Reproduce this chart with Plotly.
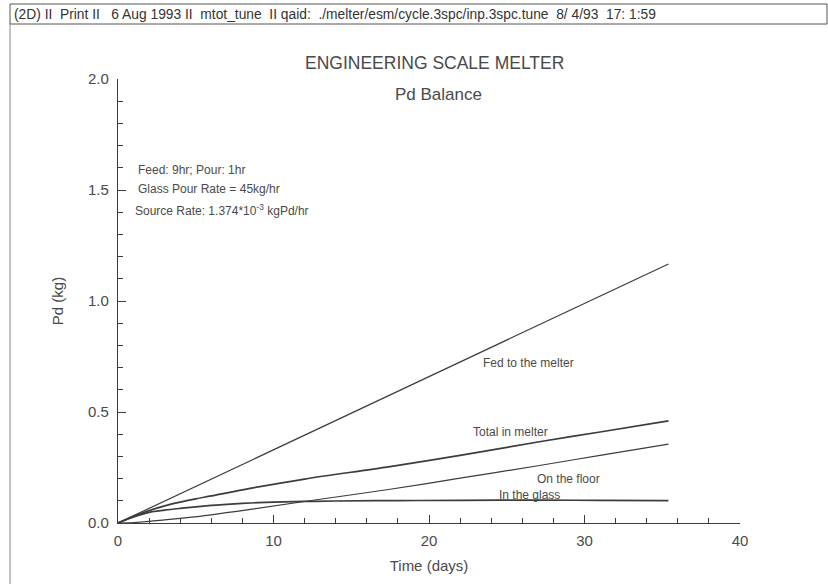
import plotly.graph_objects as go

# Pd inventory in the engineering scale melter (kg) versus time (days)
fed_days = [0.0, 35.4]
fed_pd = [0.0, 1.167]

total_days = [0, 1, 2, 3, 4, 5, 6, 8.5, 12, 17.5, 22, 27.1, 31, 35.4]
total_pd = [0.0, 0.030, 0.056, 0.077, 0.094, 0.109, 0.122, 0.156, 0.198, 0.254, 0.305, 0.366, 0.410, 0.460]

floor_days = [0, 1, 2, 3, 4, 6, 8.5, 12.2, 17.5, 22, 27.1, 31, 35.4]
floor_pd = [0.0, 0.002, 0.007, 0.014, 0.021, 0.037, 0.061, 0.099, 0.152, 0.202, 0.259, 0.305, 0.355]

glass_days = [0, 1, 2, 3, 4, 5, 6, 7, 8.5, 10, 12, 14, 18, 22, 27.1, 31, 35.4]
glass_pd = [0.0, 0.027, 0.048, 0.058, 0.066, 0.073, 0.079, 0.084, 0.090, 0.094, 0.097, 0.099, 0.101, 0.102, 0.103, 0.102, 0.101]

x_ticks = [0, 10, 20, 30, 40]
y_ticks = [0.0, 0.5, 1.0, 1.5, 2.0]
y_tick_text = ["0.0", "0.5", "1.0", "1.5", "2.0"]

W, H = 828, 584
L, R, T, B = 118, 88, 79, 61
PW, PH = W - L - R, H - T - B

INK = "#3c3c3c"
TXT = "#4a4a4a"
FONT = "Liberation Sans, Arial, Helvetica, sans-serif"


def px(x):
    return (x - L) / PW


def py(y):
    return (H - B - y) / PH


fig = go.Figure()
fig.add_trace(go.Scatter(x=fed_days, y=fed_pd, mode="lines",
                         line=dict(color=INK, width=1.2), name="Fed to the melter"))
fig.add_trace(go.Scatter(x=total_days, y=total_pd, mode="lines", line_shape="spline",
                         line=dict(color=INK, width=1.7), name="Total in melter"))
fig.add_trace(go.Scatter(x=floor_days, y=floor_pd, mode="lines", line_shape="spline",
                         line=dict(color=INK, width=1.2), name="On the floor"))
fig.add_trace(go.Scatter(x=glass_days, y=glass_pd, mode="lines", line_shape="spline",
                         line=dict(color=INK, width=1.7), name="In the glass"))

axis_common = dict(
    showgrid=False, zeroline=False, showline=True, linecolor=INK, linewidth=1.2,
    ticks="inside", tickcolor=INK, tickwidth=1, ticklen=8, automargin=False,
    tickfont=dict(family=FONT, size=15, color=TXT),
)

fig.update_xaxes(range=[0, 40], tickvals=x_ticks, ticklabelstandoff=4,
                 minor=dict(dtick=2, ticks="inside", ticklen=5, tickcolor=INK, tickwidth=1),
                 title=dict(text="Time (days)", font=dict(family=FONT, size=15, color=TXT), standoff=12),
                 **axis_common)
fig.update_yaxes(range=[0, 2.0], tickvals=y_ticks, ticktext=y_tick_text, ticklabelstandoff=5,
                 minor=dict(dtick=0.1, ticks="inside", ticklen=5, tickcolor=INK, tickwidth=1),
                 title=dict(text="Pd (kg)", font=dict(family=FONT, size=15, color=TXT), standoff=20),
                 **axis_common)

notes = [
    ("ENGINEERING SCALE MELTER", 434, 63, 17.5, "center"),
    ("Pd Balance", 438, 94, 17, "center"),
    ("Feed: 9hr; Pour: 1hr", 136, 170, 12, "left"),
    ("Glass Pour Rate = 45kg/hr", 136, 189, 12, "left"),
    ("Source Rate: 1.374*10<sup>-3</sup> kgPd/hr", 133, 210, 12, "left"),
    ("Fed to the melter", 481, 363, 12, "left"),
    ("Total in melter", 471, 432, 12, "left"),
    ("On the floor", 535, 479, 12, "left"),
    ("In the glass", 497, 495, 12, "left"),
]
for text, x, y, size, align in notes:
    fig.add_annotation(text=text, xref="paper", yref="paper", x=px(x), y=py(y),
                       xanchor=align, yanchor="middle", showarrow=False,
                       font=dict(family=FONT, size=size, color=TXT))

# run header strip
fig.add_annotation(
    text="(2D) II  Print II   6 Aug 1993 II  mtot_tune  II qaid:  ./melter/esm/cycle.3spc/inp.3spc.tune  8/ 4/93  17: 1:59",
    xref="paper", yref="paper", x=px(12), y=py(14), xanchor="left", yanchor="middle",
    showarrow=False, font=dict(family=FONT, size=13.8, color="#333333"))
fig.add_shape(type="rect", xref="paper", yref="paper",
              x0=px(10), x1=px(827), y0=py(24), y1=py(4),
              line=dict(color="#555555", width=1))
fig.add_shape(type="line", xref="paper", yref="paper",
              x0=px(10), x1=px(10), y0=py(24), y1=py(584),
              line=dict(color="#888888", width=1))

fig.update_layout(
    width=W, height=H, margin=dict(l=L, r=R, t=T, b=B, autoexpand=False),
    paper_bgcolor="white", plot_bgcolor="white", showlegend=False,
)

fig.write_html("out.html")
